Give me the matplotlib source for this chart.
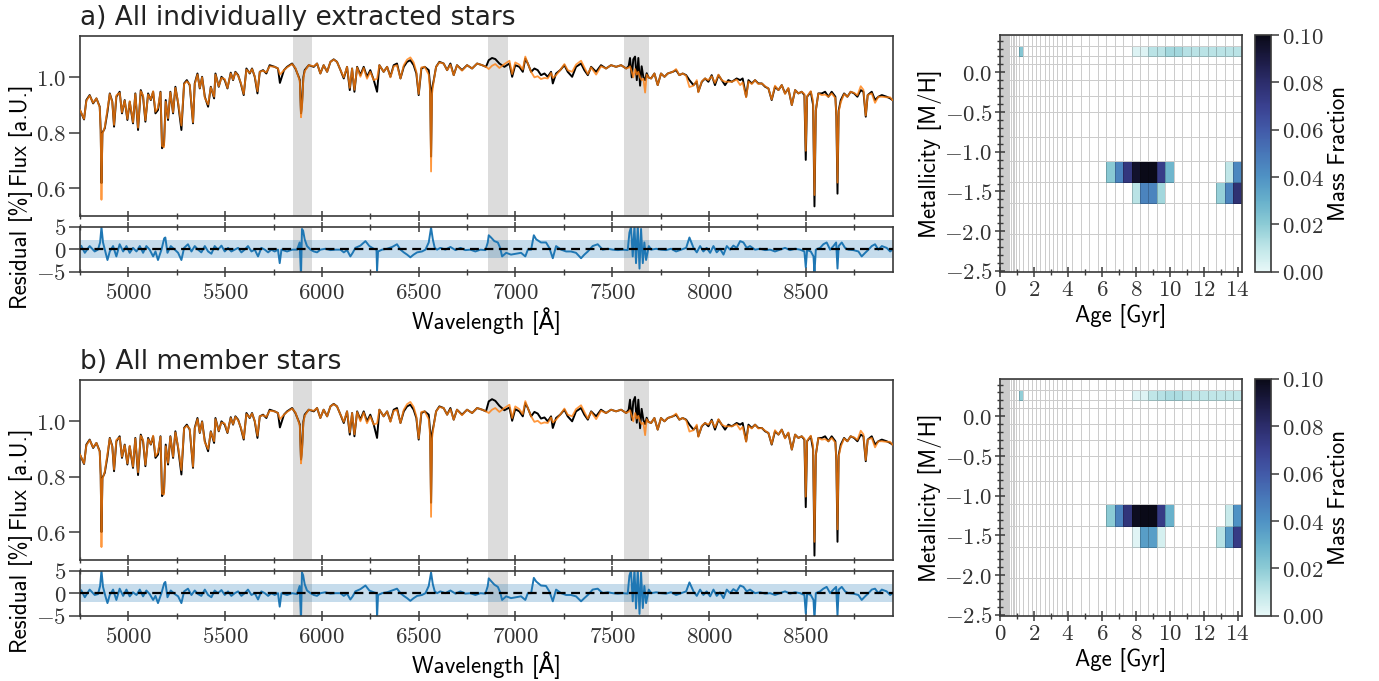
import numpy as np
import matplotlib
matplotlib.use("Agg")
import matplotlib.pyplot as plt
from matplotlib.colors import LinearSegmentedColormap
from matplotlib.ticker import MultipleLocator, FuncFormatter

plt.rcParams["mathtext.fontset"] = "cm"
plt.rcParams["font.family"] = ["cmss10", "DejaVu Sans"]
plt.rcParams["axes.edgecolor"] = "#3a3a3a"
plt.rcParams["axes.linewidth"] = 1.2
plt.rcParams["xtick.color"] = "#3a3a3a"
plt.rcParams["ytick.color"] = "#3a3a3a"
plt.rcParams["xtick.labelcolor"] = "#333333"
plt.rcParams["ytick.labelcolor"] = "#333333"

# ---------------- spectra (wavelength grid in Angstrom) ----------------
wave = [
    4750, 4771, 4783, 4800, 4818, 4835, 4852, 4857, 4861, 4866,
    4878, 4892, 4904, 4917, 4926, 4938, 4955, 4967, 4981, 4995,
    5007, 5024, 5036, 5050, 5064, 5076, 5088, 5102, 5116, 5128,
    5140, 5153, 5166, 5174, 5184, 5193, 5205, 5217, 5231, 5243,
    5257, 5274, 5288, 5302, 5317, 5334, 5343, 5357, 5369, 5381,
    5395, 5412, 5426, 5443, 5450, 5467, 5481, 5498, 5512, 5529,
    5541, 5553, 5567, 5581, 5596, 5610, 5627, 5639, 5653, 5667,
    5679, 5696, 5713, 5730, 5756, 5773, 5783, 5804, 5820, 5846,
    5863, 5880, 5886, 5892, 5897, 5904, 5911, 5932, 5958, 5975,
    5992, 6009, 6027, 6044, 6061, 6078, 6096, 6113, 6130, 6144,
    6156, 6168, 6182, 6199, 6216, 6233, 6250, 6268, 6285, 6297,
    6319, 6337, 6354, 6371, 6388, 6406, 6423, 6440, 6457, 6474,
    6488, 6500, 6514, 6531, 6552, 6559, 6564, 6569, 6578, 6590,
    6607, 6629, 6647, 6664, 6681, 6698, 6724, 6750, 6776, 6802,
    6828, 6848, 6862, 6879, 6896, 6917, 6943, 6969, 6983, 6999,
    7020, 7038, 7051, 7064, 7081, 7098, 7115, 7132, 7150, 7167,
    7184, 7193, 7210, 7231, 7253, 7270, 7293, 7313, 7339, 7356,
    7374, 7391, 7417, 7442, 7468, 7494, 7520, 7546, 7572, 7585,
    7592, 7601, 7609, 7618, 7627, 7635, 7644, 7652, 7661, 7670,
    7678, 7687, 7701, 7718, 7735, 7752, 7770, 7787, 7813, 7830,
    7847, 7864, 7882, 7899, 7920, 7937, 7945, 7963, 7980, 7997,
    8014, 8031, 8049, 8066, 8083, 8100, 8118, 8143, 8161, 8174,
    8192, 8204, 8221, 8238, 8255, 8273, 8290, 8307, 8324, 8341,
    8359, 8376, 8393, 8410, 8428, 8445, 8462, 8479, 8493, 8500,
    8507, 8526, 8538, 8545, 8552, 8565, 8583, 8600, 8617, 8634,
    8653, 8658, 8664, 8670, 8681, 8698, 8715, 8732, 8750, 8767,
    8784, 8798, 8810, 8820, 8841, 8858, 8875, 8893, 8918, 8936,
    8948,
]

flux_a = [
    0.882, 0.848, 0.918, 0.936, 0.906, 0.924, 0.894, 0.810, 0.618, 0.800,
    0.816, 0.876, 0.942, 0.912, 0.822, 0.930, 0.948, 0.870, 0.918, 0.846,
    0.912, 0.834, 0.942, 0.810, 0.954, 0.930, 0.840, 0.942, 0.918, 0.948,
    0.870, 0.882, 0.948, 0.744, 0.756, 0.918, 0.846, 0.948, 0.870, 0.966,
    0.906, 0.810, 0.978, 0.990, 0.972, 0.834, 0.978, 1.014, 0.960, 1.002,
    0.930, 0.894, 0.966, 0.924, 1.014, 0.966, 1.002, 0.990, 0.960, 1.017,
    0.990, 1.020, 1.008, 0.978, 0.936, 1.032, 1.014, 1.032, 1.002, 0.942,
    1.020, 1.026, 1.014, 1.044, 1.038, 1.032, 0.980, 1.026, 1.038, 1.050,
    1.032, 1.002, 0.990, 0.870, 0.900, 1.000, 1.026, 1.044, 1.038, 1.050,
    1.014, 1.044, 1.020, 1.056, 1.065, 1.056, 1.026, 0.996, 1.038, 0.954,
    1.032, 0.948, 1.038, 1.008, 1.038, 1.002, 1.026, 0.990, 0.948, 1.044,
    1.020, 1.038, 1.002, 1.044, 1.050, 0.996, 1.038, 1.056, 1.062, 1.044,
    1.014, 0.936, 1.032, 1.038, 1.026, 0.970, 0.714, 0.960, 0.990, 1.038,
    1.056, 1.050, 1.026, 1.050, 1.008, 1.044, 1.026, 1.044, 1.032, 1.050,
    1.044, 1.038, 1.062, 1.070, 1.066, 1.050, 1.038, 1.050, 1.002, 1.044,
    1.038, 1.020, 1.068, 1.050, 1.020, 1.032, 1.026, 1.008, 1.014, 1.002,
    1.020, 0.978, 1.014, 1.026, 1.044, 1.020, 1.002, 1.038, 1.050, 1.026,
    1.008, 1.038, 1.020, 1.044, 1.032, 1.044, 1.038, 1.044, 1.032, 1.040,
    1.070, 1.000, 1.065, 1.075, 0.990, 1.070, 0.970, 1.040, 1.000, 0.990,
    1.015, 1.000, 0.996, 1.014, 0.972, 1.014, 1.002, 1.014, 1.020, 1.026,
    1.008, 1.014, 1.008, 0.990, 0.972, 0.984, 0.948, 0.984, 0.996, 0.984,
    1.008, 0.972, 1.008, 0.990, 0.972, 0.990, 0.984, 0.996, 0.990, 0.996,
    0.930, 0.990, 0.978, 0.990, 0.978, 0.978, 0.966, 0.960, 0.918, 0.966,
    0.954, 0.972, 0.942, 0.960, 0.900, 0.954, 0.942, 0.948, 0.936, 0.702,
    0.930, 0.948, 0.900, 0.534, 0.880, 0.942, 0.942, 0.948, 0.930, 0.948,
    0.930, 0.860, 0.580, 0.880, 0.918, 0.942, 0.930, 0.948, 0.942, 0.930,
    0.954, 0.948, 0.858, 0.936, 0.948, 0.918, 0.930, 0.936, 0.930, 0.924,
    0.918,
]

model_a = [
    0.882, 0.850, 0.915, 0.934, 0.908, 0.924, 0.892, 0.805, 0.558, 0.795,
    0.820, 0.884, 0.940, 0.910, 0.828, 0.935, 0.944, 0.874, 0.916, 0.850,
    0.914, 0.838, 0.940, 0.818, 0.950, 0.935, 0.845, 0.938, 0.920, 0.950,
    0.876, 0.890, 0.946, 0.752, 0.748, 0.912, 0.852, 0.946, 0.874, 0.962,
    0.910, 0.826, 0.976, 0.986, 0.975, 0.838, 0.975, 1.010, 0.962, 1.000,
    0.926, 0.902, 0.964, 0.930, 1.010, 0.968, 0.998, 0.994, 0.962, 1.014,
    0.992, 1.018, 1.006, 0.980, 0.940, 1.028, 1.016, 1.030, 1.004, 0.950,
    1.020, 1.024, 1.018, 1.040, 1.038, 1.032, 1.010, 1.026, 1.036, 1.048,
    1.034, 1.000, 0.985, 0.856, 0.890, 0.995, 1.022, 1.044, 1.040, 1.050,
    1.014, 1.044, 1.020, 1.056, 1.064, 1.056, 1.026, 1.000, 1.038, 0.962,
    1.032, 0.955, 1.036, 1.002, 1.034, 0.995, 1.020, 0.990, 0.995, 1.044,
    1.020, 1.038, 1.000, 1.040, 1.044, 0.996, 1.044, 1.064, 1.072, 1.054,
    1.020, 0.940, 1.036, 1.038, 1.010, 0.950, 0.660, 0.940, 0.988, 1.038,
    1.054, 1.050, 1.026, 1.046, 1.008, 1.044, 1.024, 1.044, 1.032, 1.050,
    1.044, 1.038, 1.030, 1.042, 1.048, 1.034, 1.048, 1.060, 1.012, 1.054,
    1.046, 1.028, 1.075, 1.050, 1.020, 1.000, 1.004, 0.994, 0.998, 0.996,
    1.016, 0.998, 1.008, 1.026, 1.048, 1.026, 1.020, 1.046, 1.060, 1.036,
    1.012, 1.036, 1.010, 1.040, 1.032, 1.044, 1.038, 1.044, 1.032, 1.035,
    1.040, 1.020, 1.000, 1.030, 1.010, 1.020, 1.000, 0.990, 0.995, 0.945,
    1.010, 1.000, 0.996, 1.014, 0.972, 1.014, 1.002, 1.014, 1.020, 1.030,
    1.008, 1.014, 1.006, 0.965, 0.970, 0.990, 0.946, 0.986, 0.996, 0.990,
    1.004, 0.980, 1.010, 0.990, 0.984, 0.984, 0.984, 0.992, 0.972, 0.982,
    0.928, 0.985, 0.976, 0.990, 0.976, 0.978, 0.968, 0.960, 0.920, 0.970,
    0.954, 0.972, 0.940, 0.962, 0.900, 0.954, 0.942, 0.948, 0.940, 0.735,
    0.932, 0.950, 0.915, 0.575, 0.880, 0.942, 0.936, 0.938, 0.930, 0.942,
    0.925, 0.865, 0.620, 0.875, 0.910, 0.940, 0.930, 0.948, 0.944, 0.935,
    0.968, 0.955, 0.862, 0.936, 0.942, 0.908, 0.930, 0.930, 0.928, 0.928,
    0.918,
]

flux_b = [
    0.880, 0.846, 0.916, 0.934, 0.904, 0.922, 0.892, 0.806, 0.600, 0.796,
    0.814, 0.874, 0.940, 0.910, 0.820, 0.928, 0.946, 0.868, 0.916, 0.844,
    0.910, 0.832, 0.940, 0.806, 0.952, 0.928, 0.838, 0.940, 0.916, 0.946,
    0.868, 0.880, 0.946, 0.730, 0.744, 0.916, 0.844, 0.946, 0.868, 0.964,
    0.904, 0.808, 0.976, 0.988, 0.970, 0.832, 0.976, 1.012, 0.958, 1.000,
    0.928, 0.892, 0.964, 0.922, 1.012, 0.964, 1.000, 0.988, 0.958, 1.015,
    0.988, 1.018, 1.006, 0.976, 0.934, 1.030, 1.012, 1.030, 1.000, 0.940,
    1.018, 1.024, 1.012, 1.042, 1.036, 1.030, 0.978, 1.024, 1.036, 1.048,
    1.030, 1.000, 0.988, 0.862, 0.896, 0.998, 1.024, 1.042, 1.036, 1.048,
    1.012, 1.042, 1.018, 1.054, 1.063, 1.054, 1.024, 0.994, 1.036, 0.952,
    1.030, 0.946, 1.036, 1.006, 1.036, 1.000, 1.024, 0.988, 0.940, 1.042,
    1.018, 1.036, 1.000, 1.042, 1.048, 0.994, 1.036, 1.054, 1.060, 1.042,
    1.012, 0.934, 1.030, 1.036, 1.024, 0.966, 0.706, 0.956, 0.988, 1.036,
    1.054, 1.048, 1.024, 1.048, 1.006, 1.042, 1.024, 1.042, 1.030, 1.048,
    1.042, 1.036, 1.072, 1.080, 1.074, 1.056, 1.040, 1.050, 1.002, 1.044,
    1.036, 1.018, 1.066, 1.048, 1.018, 1.034, 1.028, 1.010, 1.014, 1.000,
    1.018, 0.976, 1.012, 1.024, 1.042, 1.018, 1.000, 1.036, 1.048, 1.024,
    1.006, 1.036, 1.018, 1.042, 1.030, 1.042, 1.036, 1.042, 1.030, 1.042,
    1.078, 1.005, 1.072, 1.088, 0.995, 1.078, 0.975, 1.045, 1.005, 0.990,
    1.013, 0.998, 0.994, 1.012, 0.970, 1.012, 1.000, 1.012, 1.018, 1.024,
    1.006, 1.012, 1.006, 0.988, 0.970, 0.982, 0.946, 0.982, 0.994, 0.982,
    1.006, 0.970, 1.006, 0.988, 0.970, 0.988, 0.982, 0.994, 0.988, 0.994,
    0.928, 0.988, 0.976, 0.988, 0.976, 0.976, 0.964, 0.958, 0.916, 0.964,
    0.952, 0.970, 0.940, 0.958, 0.898, 0.952, 0.940, 0.946, 0.934, 0.690,
    0.928, 0.946, 0.898, 0.515, 0.878, 0.940, 0.940, 0.946, 0.928, 0.946,
    0.928, 0.858, 0.565, 0.878, 0.916, 0.940, 0.928, 0.946, 0.940, 0.928,
    0.952, 0.946, 0.856, 0.934, 0.946, 0.916, 0.928, 0.934, 0.928, 0.922,
    0.916,
]

model_b = [
    0.880, 0.848, 0.913, 0.932, 0.906, 0.922, 0.890, 0.801, 0.546, 0.791,
    0.818, 0.882, 0.938, 0.908, 0.826, 0.933, 0.942, 0.872, 0.914, 0.848,
    0.912, 0.836, 0.938, 0.816, 0.948, 0.933, 0.843, 0.936, 0.918, 0.948,
    0.874, 0.888, 0.944, 0.738, 0.736, 0.910, 0.850, 0.944, 0.872, 0.960,
    0.908, 0.824, 0.974, 0.984, 0.973, 0.836, 0.973, 1.008, 0.960, 0.998,
    0.924, 0.900, 0.962, 0.928, 1.008, 0.966, 0.996, 0.992, 0.960, 1.012,
    0.990, 1.016, 1.004, 0.978, 0.938, 1.026, 1.014, 1.028, 1.002, 0.948,
    1.018, 1.022, 1.016, 1.038, 1.036, 1.030, 1.008, 1.024, 1.034, 1.046,
    1.032, 0.998, 0.983, 0.848, 0.886, 0.993, 1.020, 1.042, 1.038, 1.048,
    1.012, 1.042, 1.018, 1.054, 1.062, 1.054, 1.024, 0.998, 1.036, 0.960,
    1.030, 0.953, 1.034, 1.000, 1.032, 0.993, 1.018, 0.988, 0.993, 1.042,
    1.018, 1.036, 0.998, 1.038, 1.042, 0.994, 1.042, 1.062, 1.070, 1.052,
    1.018, 0.938, 1.034, 1.036, 1.008, 0.948, 0.655, 0.938, 0.986, 1.036,
    1.052, 1.048, 1.024, 1.044, 1.006, 1.042, 1.022, 1.042, 1.030, 1.048,
    1.042, 1.036, 1.030, 1.042, 1.048, 1.034, 1.048, 1.060, 1.012, 1.054,
    1.044, 1.026, 1.073, 1.048, 1.018, 0.998, 1.002, 0.992, 0.996, 0.994,
    1.014, 0.996, 1.006, 1.024, 1.046, 1.024, 1.018, 1.044, 1.058, 1.034,
    1.010, 1.034, 1.008, 1.038, 1.030, 1.042, 1.036, 1.042, 1.030, 1.035,
    1.040, 1.020, 1.000, 1.030, 1.010, 1.020, 1.000, 0.990, 0.995, 0.950,
    1.008, 0.998, 0.994, 1.012, 0.970, 1.012, 1.000, 1.012, 1.018, 1.028,
    1.006, 1.012, 1.004, 0.963, 0.968, 0.988, 0.944, 0.984, 0.994, 0.988,
    1.002, 0.978, 1.008, 0.988, 0.982, 0.982, 0.982, 0.990, 0.970, 0.980,
    0.926, 0.983, 0.974, 0.988, 0.974, 0.976, 0.966, 0.958, 0.918, 0.968,
    0.952, 0.970, 0.938, 0.960, 0.898, 0.952, 0.940, 0.946, 0.938, 0.728,
    0.930, 0.948, 0.913, 0.565, 0.878, 0.940, 0.934, 0.936, 0.928, 0.940,
    0.923, 0.863, 0.610, 0.873, 0.908, 0.938, 0.928, 0.946, 0.942, 0.933,
    0.966, 0.953, 0.860, 0.934, 0.940, 0.906, 0.928, 0.928, 0.926, 0.926,
    0.916,
]

# ---------------- residuals [%] ----------------
wave_res = [
    4757, 4775, 4800, 4826, 4843, 4854, 4861, 4869, 4881, 4892,
    4904, 4921, 4938, 4955, 4973, 4990, 5007, 5024, 5042, 5059,
    5076, 5093, 5110, 5128, 5140, 5153, 5171, 5185, 5191, 5202,
    5219, 5240, 5257, 5274, 5288, 5308, 5326, 5343, 5360, 5377,
    5395, 5412, 5429, 5446, 5463, 5481, 5498, 5515, 5532, 5550,
    5567, 5584, 5601, 5618, 5636, 5653, 5670, 5687, 5705, 5722,
    5739, 5756, 5773, 5782, 5791, 5820, 5846, 5872, 5885, 5892,
    5897, 5903, 5911, 5923, 5941, 5958, 5975, 5992, 6018, 6044,
    6070, 6096, 6113, 6130, 6147, 6159, 6173, 6199, 6225, 6245,
    6268, 6282, 6285, 6290, 6311, 6337, 6363, 6388, 6406, 6423,
    6440, 6457, 6474, 6492, 6517, 6535, 6552, 6564, 6573, 6583,
    6595, 6612, 6638, 6664, 6690, 6716, 6741, 6767, 6793, 6819,
    6845, 6857, 6862, 6874, 6891, 6909, 6921, 6931, 6952, 6977,
    7003, 7029, 7051, 7064, 7081, 7095, 7107, 7132, 7158, 7175,
    7193, 7210, 7236, 7262, 7287, 7313, 7339, 7356, 7374, 7399,
    7425, 7451, 7477, 7503, 7529, 7554, 7580, 7589, 7597, 7606,
    7615, 7623, 7632, 7641, 7649, 7658, 7666, 7675, 7689, 7701,
    7727, 7752, 7778, 7804, 7830, 7856, 7882, 7899, 7920, 7937,
    7954, 7971, 7988, 8006, 8023, 8040, 8057, 8075, 8092, 8109,
    8126, 8143, 8161, 8178, 8195, 8212, 8238, 8264, 8290, 8316,
    8341, 8367, 8393, 8419, 8445, 8471, 8493, 8500, 8507, 8526,
    8540, 8545, 8552, 8574, 8591, 8608, 8626, 8643, 8657, 8664,
    8670, 8686, 8703, 8720, 8746, 8772, 8789, 8807, 8824, 8841,
    8858, 8875, 8893, 8918, 8936, 8948,
]

res_a = [
    0.7, -0.8, 0.7, -0.5, -0.1, 1.5, 4.9, 1.5, -0.5, -2.4,
    -0.5, 0.7, -1.6, 1.1, -0.5, 0.7, -0.8, 0.3, -0.5, 0.7,
    -0.8, 0.7, -0.1, -1.6, -0.5, -2.4, -0.1, 2.4, 2.6, -0.8,
    0.7, -0.1, -0.8, -2.4, 0.3, 1.1, -0.5, 0.7, -0.1, -0.7,
    0.7, -0.5, -1.0, 0.7, -0.1, 0.8, -0.5, 0.3, -0.5, -0.1,
    0.3, -0.7, -0.1, 0.7, -0.5, -0.1, -1.6, 0.3, -0.1, -0.7,
    -0.1, -0.5, -0.1, -3.1, -0.1, -0.5, -0.1, -0.1, 1.5, -6.0,
    4.5, 4.1, 2.2, 0.7, -0.1, -0.5, -0.7, -0.1, 0.1, -0.2,
    -0.1, -0.1, -0.7, -0.2, -1.6, -0.8, 0.3, 0.8, 1.8, 0.7,
    0.1, -0.1, -4.8, -0.5, -0.1, 0.1, 0.5, 1.1, -0.1, -0.7,
    -1.2, -1.8, -1.2, -0.7, -0.5, -0.1, 1.5, 4.8, 2.2, 0.3,
    -0.1, 0.3, -0.1, 0.5, -0.2, 0.3, -0.2, -0.1, -0.5, -0.1,
    -0.2, 1.5, 3.1, 2.6, 1.8, 1.5, 0.3, -1.6, -0.8, -1.2,
    -1.0, -0.8, -1.6, -0.1, -0.1, 3.1, 2.2, 1.5, 1.5, 0.3,
    -2.0, 0.7, -0.1, -0.5, -0.5, -0.8, -2.0, -1.2, -0.5, 0.7,
    1.1, -0.1, 0.1, -0.1, -0.2, -0.1, -0.2, 3.7, 4.9, -1.6,
    5.3, -3.1, 5.3, -4.3, 4.5, -3.1, 1.5, -2.4, 0.7, -0.1,
    0.1, -0.1, -0.2, 0.1, -0.5, -0.1, 0.3, 2.6, 0.3, -0.7,
    0.7, -0.5, 0.3, -0.8, 0.7, -0.7, 0.1, -1.2, 0.7, -0.1,
    0.8, 0.3, 1.8, 1.5, 0.3, 0.7, -0.1, 0.1, -0.2, -0.1,
    -0.5, -0.1, 0.3, -0.2, 0.1, -0.1, -0.5, -4.0, -0.2, -0.5,
    -1.6, -5.3, -0.1, 0.3, 1.1, 1.5, -0.1, 0.7, 1.5, -4.3,
    0.7, 1.5, 0.3, -0.1, -0.2, -0.5, -1.6, -0.8, -0.1, 0.7,
    1.1, -0.1, 0.7, 0.3, -0.5, -0.1,
]

res_b = [
    0.6, -0.9, 0.8, -0.4, -0.2, 1.6, 5.0, 1.4, -0.6, -2.2,
    -0.4, 0.8, -1.5, 1.0, -0.6, 0.8, -0.7, 0.2, -0.4, 0.8,
    -0.7, 0.6, -0.2, -1.5, -0.6, -2.2, 0.0, 2.2, 2.5, -0.9,
    0.6, -0.2, -0.7, -2.2, 0.4, 1.0, -0.4, 0.6, -0.2, -0.6,
    0.8, -0.4, -0.9, 0.6, 0.0, 0.7, -0.4, 0.4, -0.6, 0.0,
    0.4, -0.6, 0.0, 0.8, -0.4, 0.0, -1.4, 0.4, 0.0, -0.6,
    0.0, -0.4, 0.0, -3.0, 0.0, -0.4, 0.0, -0.2, 1.6, -6.0,
    4.6, 4.0, 2.0, 0.6, 0.0, -0.4, -0.6, 0.0, 0.2, -0.1,
    0.0, 0.0, -0.6, -0.1, -1.4, -0.7, 0.4, 0.9, 1.7, 0.6,
    0.2, 0.0, -5.5, -0.4, 0.0, 0.2, 0.6, 1.0, 0.0, -0.6,
    -1.1, -1.7, -1.1, -0.6, -0.4, 0.0, 1.6, 4.6, 2.0, 0.4,
    0.0, 0.4, 0.0, 0.6, -0.1, 0.4, -0.1, 0.0, -0.4, 0.0,
    -0.1, 1.6, 3.3, 2.7, 1.9, 1.4, 0.2, -1.5, -0.7, -1.1,
    -0.9, -0.7, -1.5, 0.0, 0.0, 3.4, 2.6, 1.7, 1.6, 0.4,
    -1.8, 0.8, 0.0, -0.4, -0.4, -0.7, -1.8, -1.1, -0.4, 0.8,
    1.0, 0.0, 0.2, 0.0, -0.1, 0.0, -0.1, 3.9, 5.0, -1.8,
    5.4, -3.4, 5.4, -4.6, 4.6, -3.3, 1.6, -2.2, 0.8, 0.0,
    0.2, 0.0, -0.1, 0.2, -0.4, 0.0, 0.4, 2.4, 0.4, -0.6,
    0.8, -0.4, 0.4, -0.7, 0.8, -0.6, 0.2, -1.1, 0.8, 0.0,
    0.9, 0.4, 1.7, 1.4, 0.4, 0.8, 0.0, 0.2, -0.1, 0.0,
    -0.4, 0.0, 0.4, -0.1, 0.2, 0.0, -0.4, -4.5, -0.1, -0.4,
    -1.5, -5.8, 0.0, 0.4, 1.0, 1.4, 0.0, 0.8, 1.4, -5.0,
    0.8, 1.4, 0.4, 0.0, -0.1, -0.4, -1.5, -0.7, 0.0, 0.8,
    1.0, 0.0, 0.8, 0.4, -0.4, 0.0,
]

masked_regions = [(5850, 5950), (6860, 6960), (7560, 7690)]
noise_level = 2.0

# ---------------- age-metallicity weights ----------------
ages = [0.03, 0.04, 0.05, 0.06, 0.07, 0.08, 0.09, 0.10, 0.15, 0.20,
        0.25, 0.30, 0.35, 0.40, 0.45, 0.50, 0.60, 0.70, 0.80, 0.90,
        1.00, 1.25, 1.50, 1.75, 2.00, 2.25, 2.50, 2.75, 3.00, 3.25,
        3.50, 3.75, 4.00, 4.50, 5.00, 5.50, 6.00, 6.50, 7.00, 7.50,
        8.00, 8.50, 9.00, 9.50, 10.0, 10.5, 11.0, 11.5, 12.0, 12.5,
        13.0, 13.5, 14.0]
metals = [-2.27, -1.79, -1.49, -1.26, -0.96, -0.66, -0.35, -0.25,
          0.06, 0.15, 0.26, 0.40]

mw_met_a = [-1.26] * 10 + [-1.49] * 7 + [0.26] * 14
mw_age_a = [6.5, 7.0, 7.5, 8.0, 8.5, 9.0, 9.5, 10.0, 13.5, 14.0,
            8.0, 8.5, 9.0, 9.5, 13.0, 13.5, 14.0,
            1.25, 8.0, 8.5, 9.0, 9.5, 10.0, 10.5, 11.0, 11.5, 12.0, 12.5,
            13.0, 13.5, 14.0]
mw_frac_a = [0.021, 0.045, 0.075, 0.095, 0.105, 0.105, 0.072, 0.028, 0.010, 0.044,
             0.011, 0.045, 0.045, 0.016, 0.018, 0.045, 0.078,
             0.022, 0.003, 0.003, 0.011, 0.011, 0.016, 0.016, 0.012, 0.011,
             0.011, 0.011, 0.011, 0.011, 0.011]

mw_met_b = [-1.26] * 10 + [-1.49] * 7 + [0.26] * 14
mw_age_b = [6.5, 7.0, 7.5, 8.0, 8.5, 9.0, 9.5, 10.0, 13.5, 14.0,
            8.0, 8.5, 9.0, 9.5, 13.0, 13.5, 14.0,
            1.25, 8.0, 8.5, 9.0, 9.5, 10.0, 10.5, 11.0, 11.5, 12.0, 12.5,
            13.0, 13.5, 14.0]
mw_frac_b = [0.020, 0.046, 0.076, 0.098, 0.105, 0.105, 0.073, 0.030, 0.008, 0.040,
             0.002, 0.036, 0.036, 0.005, 0.012, 0.038, 0.073,
             0.019, 0.003, 0.003, 0.010, 0.012, 0.014, 0.014, 0.011, 0.010,
             0.010, 0.010, 0.010, 0.010, 0.010]

ice_colors = ["#e8f8f8", "#bfe6e8", "#8ccbd5", "#67b0cb", "#4f92c4", "#4877b8",
              "#425aa8", "#3a4190", "#2c2d6c", "#1b1a42", "#0a0a18"]
cmap = LinearSegmentedColormap.from_list("ice_r", ice_colors)
cmap.set_bad("white")


def cell_edges(c):
    c = np.asarray(c, dtype=float)
    mid = 0.5 * (c[1:] + c[:-1])
    return np.concatenate([[c[0] - (mid[0] - c[0])], mid, [c[-1] + (c[-1] - mid[-1])]])


def tex_fmt(fmt):
    def f(v, pos):
        v = round(v, 6) + 0.0
        return "$" + format(v, fmt) + "$"
    return FuncFormatter(f)


fig = plt.figure(figsize=(13.79, 6.81), dpi=100)
TICK = 16.5
LAB = 16.5


def draw_row(y0, title, flux, model, res, met_list, age_list, frac_list):
    ax = fig.add_axes([0.058, y0 + 0.0821, 0.5896, 0.2643])
    axr = fig.add_axes([0.058, y0, 0.5896, 0.0661])

    for lo, hi in masked_regions:
        ax.axvspan(lo, hi, color="#dcdcdc", lw=0, zorder=0)
        axr.axvspan(lo, hi, color="#dcdcdc", lw=0, zorder=0)

    ax.plot(wave, flux, color="k", lw=1.4, zorder=2)
    ax.plot(wave, model, color="C1", lw=1.3, alpha=0.8, zorder=3)
    ax.set_xlim(4750, 8951)
    ax.set_ylim(0.5, 1.15)
    ax.set_yticks([0.6, 0.8, 1.0])
    ax.yaxis.set_major_formatter(tex_fmt(".1f"))
    ax.xaxis.set_major_locator(MultipleLocator(500))
    ax.xaxis.set_minor_locator(MultipleLocator(250))
    ax.tick_params(axis="x", which="major", direction="inout", length=7, width=1.1,
                   labelbottom=False)
    ax.tick_params(axis="x", which="minor", direction="inout", length=4.5, width=1.0)
    ax.tick_params(axis="y", direction="out", length=8, width=1.1, labelsize=TICK, pad=2)
    ax.set_ylabel("Flux [a.U.]", fontsize=LAB)
    ax.yaxis.set_label_coords(-0.058, 0.45)
    ax.set_title(title, loc="left", fontsize=19, family="DejaVu Sans", pad=8,
                 color="#222222")

    axr.axhspan(-noise_level, noise_level, color="C0", alpha=0.25, lw=0, zorder=1)
    axr.plot(wave_res, res, color="C0", lw=1.4, zorder=2)
    axr.axhline(0, color="k", lw=1.6, ls=(0, (4, 2.5)), zorder=3)
    axr.set_xlim(4750, 8951)
    axr.set_ylim(-5, 5)
    axr.set_yticks([-5, 0, 5])
    axr.yaxis.set_major_formatter(tex_fmt(".0f"))
    axr.xaxis.set_major_locator(MultipleLocator(500))
    axr.xaxis.set_minor_locator(MultipleLocator(250))
    axr.xaxis.set_major_formatter(tex_fmt(".0f"))
    axr.tick_params(axis="x", which="major", direction="inout", length=7, width=1.1,
                    top=True, labelsize=TICK, pad=4)
    axr.tick_params(axis="x", which="minor", direction="inout", length=4.5, width=1.0,
                    top=True)
    axr.tick_params(axis="y", direction="out", length=8, width=1.1, labelsize=TICK, pad=2)
    axr.set_xlabel("Wavelength [Å]", fontsize=LAB, labelpad=2)
    axr.set_ylabel("Residual [%]", fontsize=LAB)
    axr.yaxis.set_label_coords(-0.058, 0.5)

    # weights map
    axm = fig.add_axes([0.7252, y0, 0.1753, 0.3476])
    grid = np.full((len(metals), len(ages)), np.nan)
    for m, a, w in zip(met_list, age_list, frac_list):
        grid[metals.index(m), ages.index(a)] = w
    mesh = axm.pcolormesh(cell_edges(ages), cell_edges(metals), np.ma.masked_invalid(grid),
                          cmap=cmap, vmin=0.0, vmax=0.1,
                          edgecolors=(0, 0, 0, 0.2), linewidth=0.7)
    axm.set_xlim(0, 14.25)
    axm.set_ylim(cell_edges(metals)[0], cell_edges(metals)[-1])
    axm.xaxis.set_major_locator(MultipleLocator(2))
    axm.xaxis.set_minor_locator(MultipleLocator(1))
    axm.yaxis.set_major_locator(MultipleLocator(0.5))
    axm.yaxis.set_minor_locator(MultipleLocator(0.1))
    axm.xaxis.set_major_formatter(tex_fmt(".0f"))
    axm.yaxis.set_major_formatter(tex_fmt(".1f"))
    axm.tick_params(which="major", direction="inout", length=7, width=1.1, labelsize=TICK,
                    pad=2)
    axm.tick_params(which="minor", direction="inout", length=4, width=1.0)
    axm.set_xlabel("Age [Gyr]", fontsize=LAB, labelpad=2)
    axm.set_ylabel("Metallicity [M/H]", fontsize=LAB, labelpad=2)

    cax = fig.add_axes([0.9101, y0, 0.0114, 0.3476])
    cb = fig.colorbar(mesh, cax=cax)
    cb.set_ticks([0.0, 0.02, 0.04, 0.06, 0.08, 0.10])
    cb.ax.yaxis.set_major_formatter(tex_fmt(".2f"))
    cb.ax.tick_params(direction="out", length=6, width=1.1, labelsize=TICK, pad=2)
    cb.outline.set_edgecolor("#3a3a3a")
    cb.outline.set_linewidth(1.2)
    cb.set_label("Mass Fraction", fontsize=LAB, labelpad=3)


draw_row(0.601, "a) All individually extracted stars", flux_a, model_a, res_a,
         mw_met_a, mw_age_a, mw_frac_a)
draw_row(0.0959, "b) All member stars", flux_b, model_b, res_b,
         mw_met_b, mw_age_b, mw_frac_b)

fig.savefig("out.png", dpi=100)
